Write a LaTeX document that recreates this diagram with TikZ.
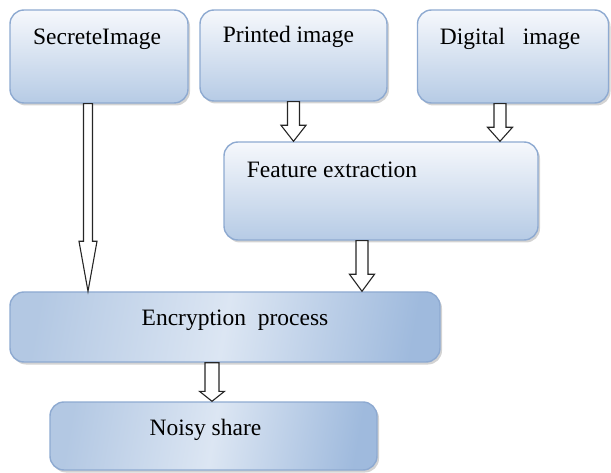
\documentclass[tikz,border=0pt]{standalone}
\usepackage{fontspec}
\setmainfont{Liberation Serif}
\usetikzlibrary{shadows,calc}
\definecolor{bord}{HTML}{8EAAD1}
\definecolor{boxtop}{HTML}{F6F8FC}
\definecolor{boxbot}{HTML}{B6CBE5}
\definecolor{boxmid}{HTML}{DCE6F3}
\definecolor{boxleft}{HTML}{B3C8E3}
\definecolor{boxright}{HTML}{9FBADD}
\tikzset{
  box/.style={draw=bord, line width=1.4pt, rounded corners=14pt,
    top color=boxtop, bottom color=boxbot,
    drop shadow={shadow xshift=2pt, shadow yshift=-2.5pt, opacity=0.35, fill=gray},
    inner sep=0pt},
  wbox/.style={draw=bord, line width=1.4pt, rounded corners=14pt,
    left color=boxleft, right color=boxright, middle color=boxmid, shading angle=80,
    drop shadow={shadow xshift=2pt, shadow yshift=-2.5pt, opacity=0.35, fill=gray},
    inner sep=0pt},
  txt/.style={font=\fontsize{23.5}{27}\selectfont, text=black},
  barrow/.style={draw=black!85, line width=1.1pt, fill=white, line join=miter},
}
% \blockarr{start}{end-level}{shaft half}{head half}{head length}
\newcommand{\blockarr}[5]{%
  \draw[barrow] let \p1=(#1), \p2=(#2) in
    (\x1-#3,\y1) -- (\x1-#3,\y2+#5) -- (\x1-#4,\y2+#5) -- (\x1,\y2)
    -- (\x1+#4,\y2+#5) -- (\x1+#3,\y2+#5) -- (\x1+#3,\y1) -- cycle;}
\begin{document}
\begin{tikzpicture}[x=1pt,y=-1pt]
\useasboundingbox (0,0) rectangle (611,473);
\node[box, minimum width=178pt, minimum height=93pt,
  label={[txt, anchor=center, yshift=-30pt, xshift=-2pt]north:SecreteImage}] (secret) at (99,56.5) {};
\node[box, minimum width=187pt, minimum height=91pt,
  label={[txt, anchor=center, yshift=-28pt, xshift=-5pt]north:Printed image}] (printed) at (293.5,55.5) {};
\node[box, minimum width=191pt, minimum height=93pt,
  label={[txt, anchor=center, yshift=-30pt, xshift=-3pt]north:Digital~~~image}] (digital) at (513,56.5) {};
\node[box, minimum width=314pt, minimum height=98pt,
  label={[txt, anchor=west, yshift=-29pt, xshift=20pt]north west:Feature extraction}] (feature) at (381,191) {};
\node[wbox, minimum width=430pt, minimum height=70pt] (encrypt) at (225,327) {};
\node[txt] (encrypttext) at ($(encrypt.center)+(10,-7)$) {Encryption~~process};
\node[wbox, minimum width=327pt, minimum height=68pt] (noisy) at (213.5,436) {};
\node[txt] (noisytext) at ($(noisy.center)+(-8,-6)$) {Noisy share};
\coordinate (a1) at ([xshift=-11pt]secret.south);
\coordinate (a2) at (printed.south);
\coordinate (a3) at ([xshift=-13pt]digital.south);
\coordinate (a4) at ([xshift=-19pt]feature.south);
\coordinate (a5) at ([xshift=-13pt]encrypt.south);
\blockarr{a1}{encrypt.north}{4.5pt}{9pt}{50pt}
\blockarr{a2}{feature.north}{6pt}{12.5pt}{16pt}
\blockarr{a3}{feature.north}{6pt}{12.5pt}{14pt}
\blockarr{a4}{encrypt.north}{6pt}{12.5pt}{17pt}
\blockarr{a5}{noisy.north}{7pt}{12.5pt}{10pt}
\end{tikzpicture}
\end{document}
